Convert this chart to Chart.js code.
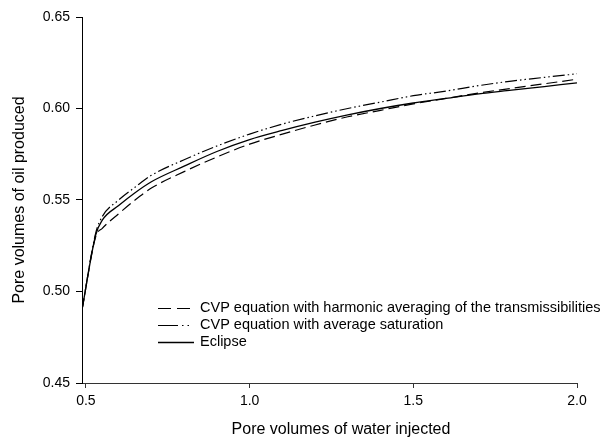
<!DOCTYPE html>
<html>
<head>
<meta charset="utf-8">
<script src="https://cdn.jsdelivr.net/npm/chart.js@4.4.1/dist/chart.umd.min.js"></script>
<style>
  html, body { margin: 0; padding: 0; background: #fff; }
  #wrap { width: 616px; height: 445px; }
</style>
</head>
<body>
<div id="wrap"><canvas id="c" width="616" height="445"></canvas></div>
<script>
// Pore volumes of water injected (x) and pore volumes of oil produced (y)
const injected = [0.488, 0.53, 0.55, 0.60, 0.65, 0.70, 0.80, 0.90, 1.00, 1.10, 1.20, 1.30, 1.40, 1.50, 1.60, 1.70, 1.80, 1.90, 2.00];
const harmonicAvg = [0.490, 0.530, 0.5345, 0.5425, 0.550, 0.5565, 0.5655, 0.5735, 0.5805, 0.586, 0.591, 0.5955, 0.599, 0.6025, 0.6055, 0.6085, 0.611, 0.6135, 0.616];
const avgSaturation = [0.490, 0.532, 0.541, 0.550, 0.557, 0.5635, 0.572, 0.5795, 0.586, 0.5915, 0.596, 0.600, 0.6035, 0.607, 0.6095, 0.6125, 0.615, 0.617, 0.619];
const eclipse = [0.490, 0.531, 0.539, 0.547, 0.554, 0.560, 0.5685, 0.5765, 0.583, 0.588, 0.5925, 0.5965, 0.600, 0.603, 0.6055, 0.608, 0.610, 0.612, 0.614];

const seriesLabels = [
  'CVP equation with harmonic averaging of the transmissibilities',
  'CVP equation with average saturation',
  'Eclipse'
];
const xTitle = 'Pore volumes of water injected';
const yTitle = 'Pore volumes of oil produced';
const xTicks = [0.5, 1.0, 1.5, 2.0];
const yTicks = [0.45, 0.50, 0.55, 0.60, 0.65];

const FONT = '"Liberation Sans", Arial, sans-serif';

function pts(ys) { return injected.map((x, i) => ({ x: x, y: ys[i] })); }

// Legend drawn inside the plot area, below the curves, plus the x-axis caption
const annotations = {
  id: 'annotations',
  afterDraw(chart) {
    const ctx = chart.ctx;
    const x0 = 158, x1 = 194, tx = 200;
    const rows = [308, 325, 342];
    ctx.save();
    ctx.font = '14.5px ' + FONT;
    ctx.textBaseline = 'middle';
    chart.data.datasets.forEach((ds, i) => {
      const y = rows[i] + 0.5;
      ctx.strokeStyle = ds.borderColor;
      ctx.lineWidth = ds.borderWidth;
      ctx.setLineDash(ds.legendDash || ds.borderDash || []);
      ctx.beginPath();
      ctx.moveTo(x0, y);
      ctx.lineTo(x1, y);
      ctx.stroke();
      ctx.setLineDash([]);
      ctx.fillStyle = '#000';
      ctx.fillText(ds.label, tx, rows[i]);
    });
    ctx.font = '16px ' + FONT;
    ctx.textAlign = 'center';
    ctx.fillText(xTitle, 341, 430);
    ctx.restore();
  }
};

new Chart(document.getElementById('c'), {
  type: 'line',
  data: {
    datasets: [
      { label: seriesLabels[0], data: pts(harmonicAvg), borderColor: '#000', borderWidth: 1.2,
        borderDash: [11, 5], legendDash: [13, 6], pointRadius: 0, fill: false, cubicInterpolationMode: 'monotone' },
      { label: seriesLabels[1], data: pts(avgSaturation), borderColor: '#000', borderWidth: 1.2,
        borderDash: [12, 3, 1.5, 3, 1.5, 3], legendDash: [20, 4, 1.5, 4, 1.5, 20], pointRadius: 0, fill: false, cubicInterpolationMode: 'monotone' },
      { label: seriesLabels[2], data: pts(eclipse), borderColor: '#000', borderWidth: 1.3,
        borderDash: [], pointRadius: 0, fill: false, cubicInterpolationMode: 'monotone' }
    ]
  },
  options: {
    responsive: false,
    animation: false,
    devicePixelRatio: 1,
    layout: { padding: { left: 0, right: 39, top: 17, bottom: 0 } },
    plugins: { legend: { display: false }, tooltip: { enabled: false } },
    scales: {
      x: {
        type: 'linear',
        min: 0.488,
        max: 2.0,
        afterBuildTicks(scale) { scale.ticks = xTicks.map(v => ({ value: v })); },
        afterFit(scale) { scale.height = 62; },
        border: { display: true, color: '#333', width: 1 },
        grid: { display: true, drawOnChartArea: false, drawTicks: true, tickLength: 5, color: '#333' },
        ticks: {
          color: '#000', padding: 5, maxRotation: 0,
          font: { family: FONT, size: 14 },
          callback: v => Number(v).toFixed(1)
        },
        title: { display: false }
      },
      y: {
        type: 'linear',
        min: 0.45,
        max: 0.65,
        afterBuildTicks(scale) { scale.ticks = yTicks.map(v => ({ value: v })); },
        afterFit(scale) { scale.width = 82; },
        border: { display: true, color: '#000', width: 1 },
        grid: { display: true, drawOnChartArea: false, drawTicks: true, tickLength: 6, color: '#000' },
        ticks: {
          color: '#000', padding: 6,
          font: { family: FONT, size: 14 },
          callback: v => Number(v).toFixed(2)
        },
        title: {
          display: true, text: yTitle, color: '#000',
          font: { family: FONT, size: 16 }, padding: { top: 10, bottom: 0 }
        }
      }
    }
  },
  plugins: [annotations]
});
</script>
</body>
</html>
